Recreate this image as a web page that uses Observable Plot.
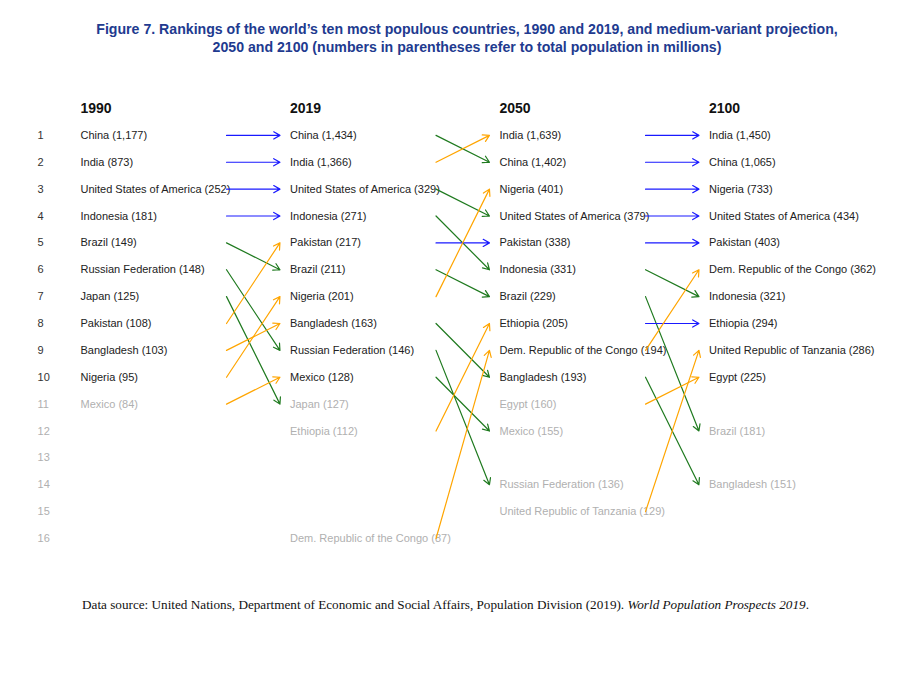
<!DOCTYPE html>
<html><head><meta charset="utf-8">
<script src="https://cdn.jsdelivr.net/npm/d3@7"></script>
<script src="https://cdn.jsdelivr.net/npm/@observablehq/plot@0.6"></script>
<style>
body{margin:0;background:#fff;width:906px;height:676px;overflow:hidden;font-family:"Liberation Sans",Arial,sans-serif;}
#title{position:absolute;top:20px;left:14px;width:906px;text-align:center;font-family:"Liberation Sans",Arial,sans-serif;font-weight:bold;font-size:15px;line-height:18px;color:#213a8f;transform:scaleX(0.942);transform-origin:453px 0;}
#chart{position:absolute;top:60px;left:0;}
#caption{position:absolute;top:597px;left:82px;font-family:"Liberation Serif",serif;font-size:13.2px;line-height:16px;color:#111;white-space:nowrap;}
</style></head><body>
<div id="title">Figure 7. Rankings of the world’s ten most populous countries, 1990 and 2019, and medium-variant projection,<br>2050 and 2100 (numbers in parentheses refer to total population in millions)</div>
<div id="chart"></div>
<div id="caption">Data source: United Nations, Department of Economic and Social Affairs, Population Division (2019). <i>World Population Prospects 2019</i>.</div>
<script>
const years = ["1990", "2019", "2050", "2100"];

const names1990 = ["China", "India", "United States of America", "Indonesia", "Brazil", "Russian Federation", "Japan", "Pakistan", "Bangladesh", "Nigeria", "Mexico"];
const ranks1990 = [1, 2, 3, 4, 5, 6, 7, 8, 9, 10, 11];
const pop1990 = [1177, 873, 252, 181, 149, 148, 125, 108, 103, 95, 84];

const names2019 = ["China", "India", "United States of America", "Indonesia", "Pakistan", "Brazil", "Nigeria", "Bangladesh", "Russian Federation", "Mexico", "Japan", "Ethiopia", "Dem. Republic of the Congo"];
const ranks2019 = [1, 2, 3, 4, 5, 6, 7, 8, 9, 10, 11, 12, 16];
const pop2019 = [1434, 1366, 329, 271, 217, 211, 201, 163, 146, 128, 127, 112, 87];

const names2050 = ["India", "China", "Nigeria", "United States of America", "Pakistan", "Indonesia", "Brazil", "Ethiopia", "Dem. Republic of the Congo", "Bangladesh", "Egypt", "Mexico", "Russian Federation", "United Republic of Tanzania"];
const ranks2050 = [1, 2, 3, 4, 5, 6, 7, 8, 9, 10, 11, 12, 14, 15];
const pop2050 = [1639, 1402, 401, 379, 338, 331, 229, 205, 194, 193, 160, 155, 136, 129];

const names2100 = ["India", "China", "Nigeria", "United States of America", "Pakistan", "Dem. Republic of the Congo", "Indonesia", "Ethiopia", "United Republic of Tanzania", "Egypt", "Brazil", "Bangladesh"];
const ranks2100 = [1, 2, 3, 4, 5, 6, 7, 8, 9, 10, 12, 14];
const pop2100 = [1450, 1065, 733, 434, 403, 362, 321, 294, 286, 225, 181, 151];

const rankNumbers = d3.range(1, 17);

const cols = [
  [names1990, ranks1990, pop1990],
  [names2019, ranks2019, pop2019],
  [names2050, ranks2050, pop2050],
  [names2100, ranks2100, pop2100]
];

const fmt = d3.format(",");
const DARK = "#222222", GRAY = "#b0b0b0";
const BLUE = "#1a1aff", GREEN = "#1f7a1f", ORANGE = "#ffa500";

const entries = [];
cols.forEach(([names, ranks, pops], c) => {
  names.forEach((n, i) => entries.push({col: c, name: n, rank: ranks[i], pop: pops[i]}));
});

const arrows = [];
for (let c = 0; c < 3; c++) {
  const [n0, r0] = cols[c];
  const [n1, r1] = cols[c + 1];
  n0.forEach((n, i) => {
    const j = n1.indexOf(n);
    if (j < 0) return;
    const a = r0[i], b = r1[j];
    arrows.push({col: c, from: a, to: b, color: a === b ? BLUE : (b > a ? GREEN : ORANGE)});
  });
}

const chart = Plot.plot({
  width: 906,
  height: 500,
  margin: 0,
  x: {domain: [0, 3], range: [80, 708.5], axis: null},
  y: {domain: [0, 16], range: [48, 478], axis: null},
  color: {type: "identity"},
  style: {fontFamily: "'Liberation Sans', Arial, sans-serif", background: "white"},
  marks: [
    Plot.text(years, {x: (d, i) => i, y: 0, text: d => d, textAnchor: "start", fontWeight: "bold", fontSize: 14, fill: "#111"}),
    Plot.text(rankNumbers, {x: -0.205, y: d => d, text: d => String(d), textAnchor: "start", fontSize: 11, fill: d => d <= 10 ? "#333" : GRAY}),
    Plot.text(entries, {x: "col", y: "rank", text: d => `${d.name} (${fmt(d.pop)})`, textAnchor: "start", fontSize: 11, fill: d => d.rank <= 10 ? DARK : GRAY}),
    Plot.arrow(arrows, {x1: d => d.col + 0.697, y1: "from", x2: d => d.col + 0.952, y2: "to", stroke: "color", strokeWidth: 1.2, headLength: 9, bend: 0})
  ]
});
document.getElementById("chart").appendChild(chart);
</script>
</body></html>
